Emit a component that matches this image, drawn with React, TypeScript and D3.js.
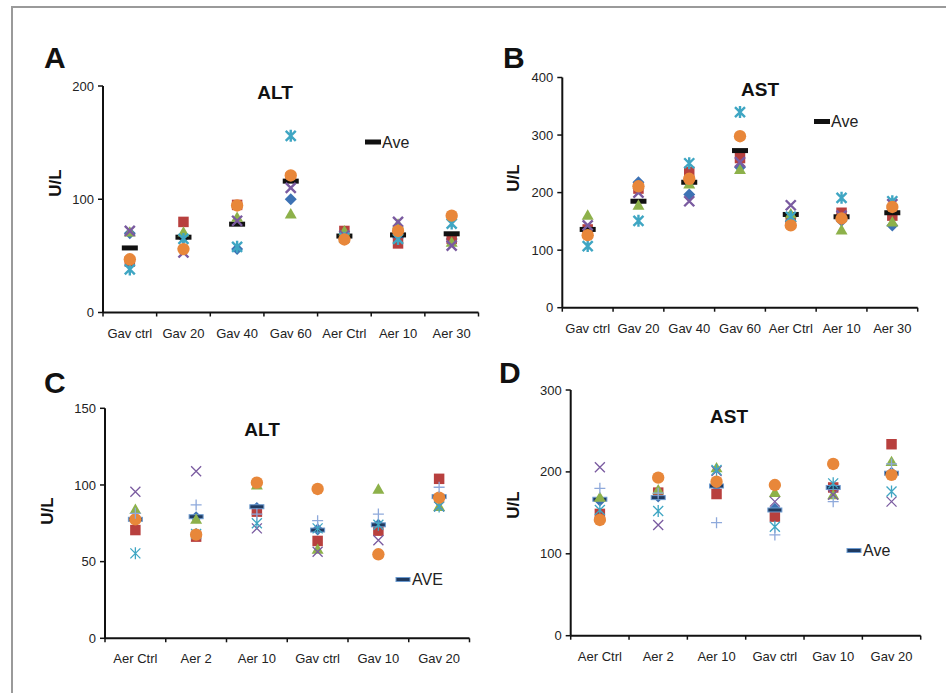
import React from "react";
import * as d3 from "d3";

// ---------- DATA ----------
const catsAB = ["Gav ctrl", "Gav 20", "Gav 40", "Gav 60", "Aer Ctrl", "Aer 10", "Aer 30"];
const catsCD = ["Aer Ctrl", "Aer 2", "Aer 10", "Gav ctrl", "Gav 10", "Gav 20"];

const A_diamond = [70, 66, 56, 100, 67, 66, 65];
const A_square = [45, 80, 95, 119, 72, 61, 65];
const A_triangle = [71, 71, 84, 87, 72, 78, 62];
const A_x = [72, 53, 81, 110, 68, 80, 59];
const A_asterisk = [38, 65, 58, 156, 66, 65, 78.5];
const A_circle = [47, 56, 94.5, 121, 64.5, 72, 85.5];
const A_ave = [57, 66.5, 78, 116, 67.5, 68.5, 69.5];

const B_diamond = [135, 218, 196.5, 244, 150, 151, 143];
const B_square = [136, 207, 236, 260, 155, 165, 160];
const B_triangle = [160.6, 178, 215, 240, 163, 135, 149];
const B_x = [143, 200, 185, 253, 178, 160, 180];
const B_asterisk = [107, 151, 251, 340, 158, 191, 185];
const B_circle = [126, 211, 224, 298, 143, 155, 175];
const B_ave = [136, 185, 218, 273, 162, 158, 165];

const C_diamond = [77, 79, 85, 71, 74, 92];
const C_square = [70.6, 66.3, 82.6, 63.5, 70.2, 104];
const C_triangle = [84, 77.6, 100, 58, 97.2, 86];
const C_x = [95.6, 109, 71.7, 56.5, 64, 86];
const C_asterisk = [55.4, 68, 75, 71.7, 74, 86];
const C_circle = [77.6, 67.6, 101.5, 97.4, 54.8, 91.7];
const C_plus = [81.5, 87, 81, 76.7, 81, 98.5];
const C_ave = [77.6, 79.3, 85.8, 70.6, 74, 92.4];

const D_diamond = [165, 170, 183, 155, 181, 199];
const D_square = [148.7, 174.7, 173, 145.4, 181, 233.8];
const D_triangle = [169, 178, 205, 174.7, 172, 212.5];
const D_x = [205.7, 135.2, 201, 163.7, 172, 163.7];
const D_asterisk = [153.5, 152.3, 202.4, 133, 186, 176];
const D_circle = [141.3, 193, 188, 184, 209.7, 196.3];
const D_plus = [180, 174, 138, 123, 163.7, 209.7];
const D_ave = [166.6, 168.6, 182.8, 153.5, 181, 198.4];

const ticksA = [0, 100, 200];
const ticksB = [0, 100, 200, 300, 400];
const ticksC = [0, 50, 100, 150];
const ticksD = [0, 100, 200, 300];

// ---------- STYLE ----------
const COL = {
  diamond: "#3D72B4",
  square: "#B8403E",
  triangle: "#8DB14A",
  x: "#7A5BA0",
  asterisk: "#3FA6C3",
  circle: "#E8873A",
  plus: "#8EA9DB",
};
const FONT = "'Liberation Sans', Arial, Helvetica, sans-serif";

type Panel = {
  letter: string;
  letterPos: [number, number];
  title: string;
  titlePos: [number, number];
  ylabelPos: [number, number];
  legend: string;
  legendPos: [number, number];
  navyAve: boolean;
  thick: boolean;
  cats: string[];
  x0: number;
  x1: number;
  yBottom: number;
  yTop: number;
  yMax: number;
  ticks: number[];
  series: { type: string; values: number[] }[];
};

const panels: Panel[] = [
  {
    letter: "A", letterPos: [44, 68], title: "ALT", titlePos: [275, 99], ylabelPos: [55, 183],
    legend: "Ave", legendPos: [368, 142], navyAve: false, thick: true,
    cats: catsAB, x0: 103, x1: 478.5, yBottom: 312.5, yTop: 86, yMax: 200, ticks: ticksA,
    series: [
      { type: "diamond", values: A_diamond },
      { type: "square", values: A_square },
      { type: "ave", values: A_ave },
      { type: "triangle", values: A_triangle },
      { type: "x", values: A_x },
      { type: "asterisk", values: A_asterisk },
      { type: "circle", values: A_circle },
    ],
  },
  {
    letter: "B", letterPos: [503, 68], title: "AST", titlePos: [760, 96], ylabelPos: [513, 178],
    legend: "Ave", legendPos: [817, 121.5], navyAve: false, thick: true,
    cats: catsAB, x0: 562.3, x1: 917.7, yBottom: 307.7, yTop: 77.5, yMax: 400, ticks: ticksB,
    series: [
      { type: "diamond", values: B_diamond },
      { type: "square", values: B_square },
      { type: "ave", values: B_ave },
      { type: "triangle", values: B_triangle },
      { type: "x", values: B_x },
      { type: "asterisk", values: B_asterisk },
      { type: "circle", values: B_circle },
    ],
  },
  {
    letter: "C", letterPos: [44, 393], title: "ALT", titlePos: [262, 436], ylabelPos: [47, 511],
    legend: "AVE", legendPos: [398, 579.5], navyAve: true, thick: false,
    cats: catsCD, x0: 105, x1: 469.5, yBottom: 638.3, yTop: 408.3, yMax: 150, ticks: ticksC,
    series: [
      { type: "diamond", values: C_diamond },
      { type: "square", values: C_square },
      { type: "ave", values: C_ave },
      { type: "triangle", values: C_triangle },
      { type: "x", values: C_x },
      { type: "asterisk", values: C_asterisk },
      { type: "circle", values: C_circle },
      { type: "plus", values: C_plus },
    ],
  },
  {
    letter: "D", letterPos: [499, 383], title: "AST", titlePos: [729, 423], ylabelPos: [513, 505],
    legend: "Ave", legendPos: [849, 550.5], navyAve: true, thick: false,
    cats: catsCD, x0: 570.7, x1: 920.7, yBottom: 635.7, yTop: 390, yMax: 300, ticks: ticksD,
    series: [
      { type: "diamond", values: D_diamond },
      { type: "square", values: D_square },
      { type: "ave", values: D_ave },
      { type: "triangle", values: D_triangle },
      { type: "x", values: D_x },
      { type: "asterisk", values: D_asterisk },
      { type: "circle", values: D_circle },
      { type: "plus", values: D_plus },
    ],
  },
];

const symSquare = d3.symbol().type(d3.symbolSquare).size(110)();
const symCircle = d3.symbol().type(d3.symbolCircle).size(120)();
const symTriangle = d3.symbol().type(d3.symbolTriangle).size(62)();

function AveDash({ x, y, navy }: { x: number; y: number; navy: boolean }) {
  if (navy) {
    return <rect x={x - 7} y={y - 2} width={14} height={4} fill="#1F3A60" stroke="#6D9BD0" strokeWidth={1} />;
  }
  return <rect x={x - 8} y={y - 2.5} width={16} height={5} fill="#111" />;
}

function Marker({ type, x, y, thick, navy }: { type: string; x: number; y: number; thick: boolean; navy: boolean }) {
  const t = `translate(${x},${y})`;
  switch (type) {
    case "diamond":
      return <path transform={t} d="M0,-6L6,0L0,6L-6,0Z" fill={COL.diamond} />;
    case "square":
      return <path transform={t} d={symSquare} fill={COL.square} />;
    case "triangle":
      return <path transform={`translate(${x},${y + 1})`} d={symTriangle} fill={COL.triangle} />;
    case "circle":
      return <path transform={t} d={symCircle} fill={COL.circle} />;
    case "x": {
      const r = 5;
      return (
        <path transform={t} d={`M${-r},${-r}L${r},${r}M${-r},${r}L${r},${-r}`} stroke={COL.x} strokeWidth={thick ? 2.4 : 1.3} fill="none" />
      );
    }
    case "asterisk": {
      const r = 5;
      return (
        <path transform={t} d={`M${-r},${-r}L${r},${r}M${-r},${r}L${r},${-r}M0,${-r - 1}L0,${r + 1}`} stroke={COL.asterisk} strokeWidth={thick ? 2.4 : 1.3} fill="none" />
      );
    }
    case "plus": {
      const r = 5.5;
      return <path transform={t} d={`M${-r},0L${r},0M0,${-r}L0,${r}`} stroke={COL.plus} strokeWidth={1.3} fill="none" />;
    }
    case "ave":
      return <AveDash x={x} y={y} navy={navy} />;
  }
  return null;
}

function PanelView({ p }: { p: Panel }) {
  const xs = d3.scaleBand<string>().domain(p.cats).range([p.x0, p.x1]).paddingInner(0).paddingOuter(0);
  const ys = d3.scaleLinear().domain([0, p.yMax]).range([p.yBottom, p.yTop]);
  const bounds = [...p.cats.map((c) => xs(c) as number), p.x1];
  return (
    <g>
      <text x={p.letterPos[0]} y={p.letterPos[1]} fontFamily={FONT} fontWeight="bold" fontSize={30} fill="#111">
        {p.letter}
      </text>
      <text x={p.titlePos[0]} y={p.titlePos[1]} textAnchor="middle" fontFamily={FONT} fontWeight="bold" fontSize={19} fill="#111">
        {p.title}
      </text>
      <text
        transform={`translate(${p.ylabelPos[0]},${p.ylabelPos[1]}) rotate(-90)`}
        textAnchor="middle"
        dy="0.35em"
        fontFamily={FONT}
        fontWeight="bold"
        fontSize={17}
        fill="#111"
      >
        U/L
      </text>
      {p.ticks.map((t) => (
        <g key={"yt" + t}>
          <line x1={p.x0 - 5} x2={p.x0} y1={ys(t)} y2={ys(t)} stroke="#111" strokeWidth={1.5} />
          <text x={p.x0 - 9} y={ys(t)} dy="0.35em" textAnchor="end" fontFamily={FONT} fontSize={13} fill="#222">
            {t}
          </text>
        </g>
      ))}
      {bounds.map((b, i) => (
        <line key={"xt" + i} x1={b} x2={b} y1={p.yBottom} y2={p.yBottom + 4} stroke="#111" strokeWidth={1.5} />
      ))}
      {p.cats.map((c) => (
        <text
          key={"xl" + c}
          x={(xs(c) as number) + xs.bandwidth() / 2}
          y={p.yBottom + 25}
          textAnchor="middle"
          fontFamily={FONT}
          fontSize={13}
          fill="#222"
        >
          {c}
        </text>
      ))}
      <line x1={p.x0} x2={p.x0} y1={p.yTop} y2={p.yBottom} stroke="#111" strokeWidth={2} />
      <line x1={p.x0} x2={p.x1} y1={p.yBottom} y2={p.yBottom} stroke="#111" strokeWidth={2} />
      {p.series.map((s) =>
        s.values.map((v, i) => (
          <Marker
            key={s.type + i}
            type={s.type}
            x={(xs(p.cats[i]) as number) + xs.bandwidth() / 2}
            y={ys(v)}
            thick={p.thick}
            navy={p.navyAve}
          />
        ))
      )}
      <AveDash x={p.legendPos[0] + 5} y={p.legendPos[1]} navy={p.navyAve} />
      <text x={p.legendPos[0] + 14} y={p.legendPos[1]} dy="0.36em" fontFamily={FONT} fontSize={16} fill="#222">
        {p.legend}
      </text>
    </g>
  );
}

export default function App() {
  return (
    <svg width={946} height={693} style={{ position: "absolute", left: 0, top: 0, background: "#fff" }}>
      <rect x={0} y={0} width={946} height={693} fill="#fff" />
      <rect x={12} y={7} width={960} height={720} fill="none" stroke="#9a9a9a" strokeWidth={2} />
      {panels.map((p) => (
        <PanelView key={p.letter} p={p} />
      ))}
    </svg>
  );
}
